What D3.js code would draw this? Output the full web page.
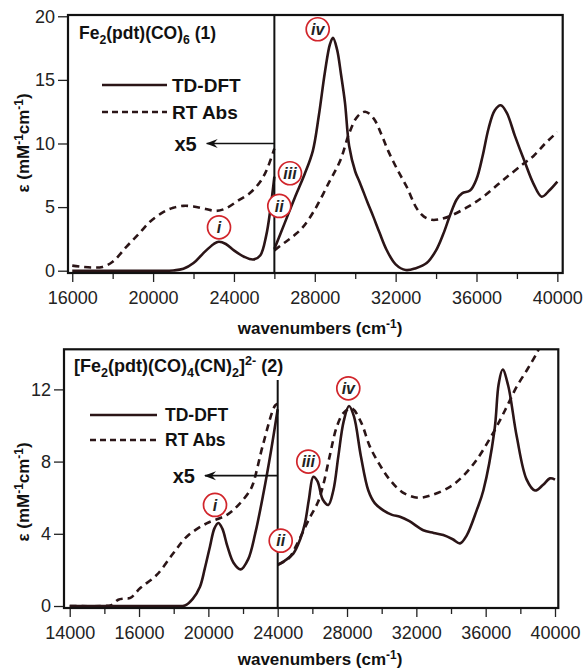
<!DOCTYPE html>
<html>
<head>
<meta charset="utf-8">
<script src="https://cdn.jsdelivr.net/npm/d3@7"></script>
<style>
body { margin: 0; background: #fff; }
svg { font-family: "Liberation Sans", Arial, Helvetica, sans-serif; }
</style>
</head>
<body>
<svg id="chart" width="584" height="669"></svg>
<script>

// ---- data: [wavenumber, epsilon] ----

// compound 1, left of the split the curves are shown x5
var td1Left = [[16000,0],[18000,0],[20000,0],[21000,0.02],[21500,0.15],[22000,0.6],[22500,1.4],[23000,2.1],
	[23250,2.28],[23600,2.1],[24000,1.6],[24500,1.1],[24950,0.88],[25300,1.2],[25600,2.8],[25800,4.8],[26000,7.4]];
var td1Right = [[26000,1.7],[26500,3.7],[27000,5.7],[27500,7.6],[27900,9.4],[28200,12.2],[28500,15.6],[28750,17.8],
	[28900,18.3],[29100,17.4],[29300,15.4],[29494,13.2],[29700,9.8],[30000,7.8],[30235,6.9],[30600,5.4],[30895,4.25],
	[31200,3.0],[31555,1.63],[32000,0.5],[32500,0.05],[33000,0.2],[33535,0.6],[34000,1.6],[34360,2.9],[34700,4.4],
	[35020,5.6],[35300,6.1],[35680,6.3],[36000,7.2],[36300,9.0],[36600,11.2],[36900,12.6],[37200,13.0],[37500,12.4],
	[37900,10.6],[38400,8.5],[38810,6.87],[39225,5.82],[39600,6.3],[40000,7.0]];
var rt1Left = [[16000,0.4],[16500,0.3],[17000,0.25],[17500,0.3],[18000,0.7],[18690,1.9],[19300,2.9],[19845,3.85],
	[20500,4.6],[21000,4.95],[21500,5.1],[22000,5.05],[22600,4.85],[23140,4.7],[23600,4.9],[24200,5.5],[24790,6.1],
	[25300,7.0],[25615,7.9],[26000,9.6]];
var rt1Right = [[26000,1.6],[26500,2.2],[27000,2.8],[27400,3.4],[28000,4.8],[28690,6.9],[29270,8.7],[29700,10.8],
	[30100,12.1],[30490,12.5],[30900,12.0],[31300,10.7],[31637,9.4],[32100,7.9],[32546,6.6],[33043,4.9],[33400,4.25],
	[33785,4.0],[34200,4.05],[34690,4.3],[35500,4.95],[36338,5.82],[37300,7.1],[38320,8.4],[38812,9.0],[39400,10.0],
	[40000,10.9]];

// compound 2
var td2Left = [[12000,0],[16000,0],[18000,0],[18650,0.03],[19100,0.4],[19517,1.07],[19800,2.1],[20094,3.3],
	[20350,4.3],[20575,4.6],[20800,4.3],[21100,3.3],[21450,2.4],[21866,2.03],[22300,2.6],[22700,4.0],[23170,6.2],
	[23600,8.5],[24000,10.9]];
var td2Right = [[24000,2.27],[24400,2.5],[24900,2.9],[25300,3.7],[25575,4.6],[25800,5.9],[26055,7.16],[26300,6.9],
	[26600,5.9],[26920,5.6],[27210,6.4],[27500,8.3],[27800,10.2],[28115,11.08],[28400,10.5],[28800,8.3],[29230,6.4],
	[29600,5.7],[30095,5.3],[30600,5.05],[31055,4.95],[31600,4.7],[32400,4.2],[33000,4.05],[33555,3.93],[34100,3.7],
	[34520,3.47],[34900,3.9],[35480,5.3],[35865,6.4],[36510,9.75],[36750,12.3],[36980,13.1],[37300,12.2],[37790,9.4],
	[38365,7.0],[38845,6.4],[39300,6.7],[39710,7.07],[40000,7.0]];
var rt2Left = [[12000,0],[14000,0],[14400,0.05],[14800,0.35],[15200,0.42],[15500,0.45],[16056,0.98],[17020,1.72],
	[17977,2.92],[18750,3.84],[19900,4.58],[21057,5.04],[21825,5.69],[22400,6.4],[22590,6.8],[23170,9.0],[23845,11.1],
	[24000,11.2]];
var rt2Right = [[24000,2.3],[24600,2.6],[25100,3.4],[25800,4.8],[26300,5.7],[26600,6.6],[27000,8.3],[27400,9.9],
	[27800,10.7],[28270,10.95],[28800,10.2],[29320,8.83],[29900,7.8],[30480,6.98],[31200,6.3],[32100,6.0],[32900,6.15],
	[33940,6.6],[34700,7.2],[35480,8.1],[36200,9.2],[36830,10.3],[37300,11.2],[37790,12.15],[38400,13.1],[38945,14.0],
	[39200,14.5]];

// transition labels [wavenumber, epsilon, label]
var marks1 = [[23261,3.41,"i"],[26244,5.09,"ii"],[26773,7.66,"iii"],[28144,18.98,"iv"]];
var marks2 = [[20383,5.6,"i"],[24174,3.62,"ii"],[25766,8.0,"iii"],[28074,12.06,"iv"]];

// ticks
var xMajor1 = [16000,20000,24000,28000,32000,36000,40000];
var xLabels1 = ["16000","20000","24000","28000","32000","36000","40000"];
var xMajor2 = [12000,16000,20000,24000,28000,32000,36000,40000];
var xLabels2 = ["14000","16000","20000","24000","28000","32000","36000","40000"];
var yTicks1 = [0,5,10,15,20];
var yTicks2 = [0,4,8,12];

// titles as [text, mode] pieces
var title1 = [["Fe",""],["2","sub"],["(pdt)(CO)",""],["6","sub"],[" (1)",""]];
var title2 = [["[Fe",""],["2","sub"],["(pdt)(CO)",""],["4","sub"],["(CN)",""],["2","sub"],["]",""],["2-","sup"],[" (2)",""]];
var xTitle = [["wavenumbers (cm",""],["-1","sup"],[")",""]];
var yTitle = [["\u03b5 (mM",""],["-1","sup"],["cm",""],["-1","sup"],[")",""]];
var legendNames = ["TD-DFT", "RT Abs"];

var curveCol = "#2b1517";
var circCol = "#d1252b";

var panels = [
	{
		box: { l: 68, r: 562.7, t: 15, b: 273 },
		xdom: [15790, 40265], ydom: [-0.18, 20.1],
		major: xMajor1, labels: xLabels1, minorFrom: 16000, yticks: yTicks1,
		td: [td1Left, td1Right], rt: [rt1Left, rt1Right], marks: marks1,
		split: 26000, splitTop: 15, arrowY: 10, arrowTip: 22652,
		title: title1, titleX: 79, titleY: 39, titleSize: 17.5,
		legX: 102, legX2: 167, legTx: 172, legY: [85, 112], legSize: 19,
		xTitleY: 334, yTitleY: 143,
	},
	{
		box: { l: 64, r: 558.3, t: 349.3, b: 608 },
		xdom: [11671, 40190], ydom: [-0.11, 14.22],
		major: xMajor2, labels: xLabels2, minorFrom: 12000, yticks: yTicks2,
		td: [td2Left, td2Right], rt: [rt2Left, rt2Right], marks: marks2,
		split: 24000, splitTop: 380, arrowY: 7.22, arrowTip: 19806,
		title: title2, titleX: 74, titleY: 372, titleSize: 18,
		legX: 90, legX2: 157, legTx: 165, legY: [415, 440], legSize: 17.5,
		xTitleY: 665, yTitleY: 492,
	}
];

var svg = d3.select("#chart");

var defs = svg.append("defs");
defs.append("marker")
	.attr("id", "arrowhead")
	.attr("viewBox", "0 -5 12 10")
	.attr("refX", 11).attr("refY", 0)
	.attr("markerUnits", "userSpaceOnUse")
	.attr("markerWidth", 12).attr("markerHeight", 10)
	.attr("orient", "auto")
	.append("path")
		.attr("d", "M12,0 L0,-4.5 L4,0 L0,4.5 Z")
		.attr("fill", "#111");

// write pieces of text with sub/superscripts
function richtext(sel, pieces, size)	{

	var shift = 0;
	pieces.forEach( p => {
		var t = sel.append("tspan").text(p[0]);
		var want = p[1] === "sub" ? size * 0.3 : p[1] === "sup" ? -size * 0.38 : 0;
		if(want !== shift)
			t.attr("dy", want - shift);
		shift = want;
		if(p[1])
			t.attr("font-size", size * 0.7);
	});

}

function drawPanel(p, idx)	{

	var b = p.box;
	var x = d3.scaleLinear().domain(p.xdom).range([b.l, b.r]);
	var y = d3.scaleLinear().domain(p.ydom).range([b.b, b.t]);

	var g = svg.append("g");

	defs.append("clipPath").attr("id", "clip" + idx)
		.append("rect")
		.attr("x", b.l).attr("y", b.t)
		.attr("width", b.r - b.l).attr("height", b.b - b.t);

	// y axis
	var ya = g.append("g")
		.attr("transform", `translate(${b.l},0)`)
		.call(d3.axisLeft(y).tickValues(p.yticks).tickSize(10).tickPadding(3));
	ya.select(".domain").remove();
	ya.selectAll("line").attr("stroke", "#222").attr("stroke-width", 1.3);
	ya.selectAll("text").attr("font-size", 18).attr("fill", "#222").attr("font-family", null);

	// x axis, ticks every 2000
	var all = d3.range(p.minorFrom, 40001, 2000);
	var lab = {};
	p.major.forEach( (v, i) => lab[v] = p.labels[i] );
	var xa = g.append("g")
		.attr("transform", `translate(0,${b.b})`)
		.call(d3.axisBottom(x).tickValues(all).tickSize(8).tickPadding(10)
			.tickFormat( d => lab[d] !== undefined ? lab[d] : "" ));
	xa.select(".domain").remove();
	xa.selectAll("line")
		.attr("y2", d => lab[d] !== undefined ? 9 : 6)
		.attr("stroke", "#222").attr("stroke-width", 1.3);
	xa.selectAll("text").attr("font-size", 18).attr("fill", "#222").attr("font-family", null);

	// curves
	var line = d3.line()
		.x( d => x(d[0]) )
		.y( d => y(d[1]) )
		.curve(d3.curveCatmullRom.alpha(0.5));

	var cg = g.append("g").attr("clip-path", `url(#clip${idx})`);

	p.rt.forEach( seg => {
		cg.append("path")
			.attr("d", line(seg))
			.attr("fill", "none")
			.attr("stroke", curveCol)
			.attr("stroke-width", 2.6)
			.attr("stroke-dasharray", "7,5");
	});
	p.td.forEach( seg => {
		cg.append("path")
			.attr("d", line(seg))
			.attr("fill", "none")
			.attr("stroke", curveCol)
			.attr("stroke-width", 2.6);
	});

	// split line and x5 arrow
	g.append("line")
		.attr("x1", x(p.split)).attr("x2", x(p.split))
		.attr("y1", p.splitTop).attr("y2", b.b)
		.attr("stroke", "#111").attr("stroke-width", 2);
	g.append("line")
		.attr("x1", x(p.split)).attr("x2", x(p.arrowTip))
		.attr("y1", y(p.arrowY)).attr("y2", y(p.arrowY))
		.attr("stroke", "#111").attr("stroke-width", 1.6)
		.attr("marker-end", "url(#arrowhead)");
	g.append("text")
		.attr("x", x(p.arrowTip) - 10)
		.attr("y", y(p.arrowY))
		.attr("dy", "0.36em")
		.attr("text-anchor", "end")
		.attr("font-size", 20).attr("font-weight", "bold").attr("fill", "#111")
		.text("x5");

	// frame
	g.append("rect")
		.attr("x", b.l).attr("y", b.t)
		.attr("width", b.r - b.l).attr("height", b.b - b.t)
		.attr("fill", "none").attr("stroke", "#111").attr("stroke-width", 2.2);

	// circled transition labels
	var mk = g.selectAll(".mk").data(p.marks).join("g")
		.attr("transform", d => `translate(${x(d[0])},${y(d[1])})`);
	mk.append("circle")
		.attr("r", 11.5)
		.attr("fill", "#fff")
		.attr("stroke", circCol).attr("stroke-width", 1.7);
	mk.append("text")
		.attr("text-anchor", "middle").attr("dy", "0.36em")
		.attr("font-size", 16).attr("font-weight", "bold").attr("font-style", "italic")
		.attr("fill", "#222")
		.text( d => d[2] );

	// title
	var tt = g.append("text")
		.attr("x", p.titleX).attr("y", p.titleY)
		.attr("font-size", p.titleSize).attr("font-weight", "bold").attr("fill", "#111");
	richtext(tt, p.title, p.titleSize);

	// legend
	legendNames.forEach( (name, i) => {
		g.append("line")
			.attr("x1", p.legX).attr("x2", p.legX2)
			.attr("y1", p.legY[i]).attr("y2", p.legY[i])
			.attr("stroke", curveCol).attr("stroke-width", 2.6)
			.attr("stroke-dasharray", i ? "6,4" : null);
		g.append("text")
			.attr("x", p.legTx).attr("y", p.legY[i]).attr("dy", "0.36em")
			.attr("font-size", p.legSize).attr("font-weight", "bold").attr("fill", "#111")
			.text(name);
	});

	// axis titles
	var xt = g.append("text")
		.attr("x", 320).attr("y", p.xTitleY)
		.attr("text-anchor", "middle")
		.attr("font-size", 17).attr("font-weight", "bold").attr("fill", "#111");
	richtext(xt, xTitle, 17);

	var yt = g.append("text")
		.attr("transform", `translate(29,${p.yTitleY}) rotate(-90)`)
		.attr("text-anchor", "middle")
		.attr("font-size", 17).attr("font-weight", "bold").attr("fill", "#111");
	richtext(yt, yTitle, 17);

}

panels.forEach(drawPanel);

</script>
</body>
</html>
